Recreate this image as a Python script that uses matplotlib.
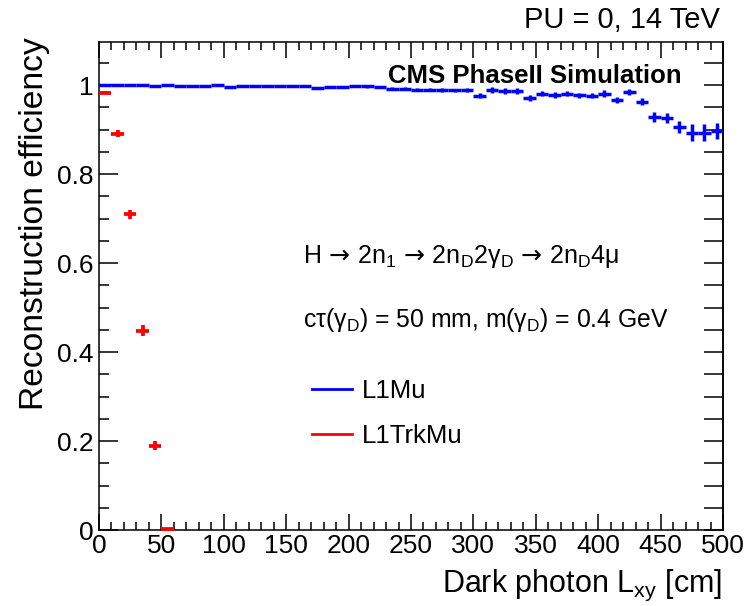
import numpy as np
import matplotlib
matplotlib.use("Agg")
import matplotlib.pyplot as plt
from matplotlib import font_manager
from matplotlib.lines import Line2D
from matplotlib.ticker import MultipleLocator, NullFormatter, FuncFormatter

# ---- data: dark photon transverse decay length bins (cm) ----
bin_width = 10.0
l1mu_x = np.arange(5, 500, 10)
l1mu_eff = [1.000, 1.000, 1.001, 1.000, 0.999, 1.000, 0.999, 0.999, 0.999, 1.000,
            0.996, 0.998, 0.999, 0.999, 0.998, 0.999, 0.999, 0.994, 0.995, 0.996,
            0.998, 0.997, 0.996, 0.992, 0.992, 0.990, 0.990, 0.989, 0.988, 0.989,
            0.976, 0.989, 0.987, 0.987, 0.971, 0.981, 0.978, 0.981, 0.977, 0.976,
            0.981, 0.966, 0.984, 0.963, 0.929, 0.926, 0.906, 0.893, 0.893, 0.897]
l1mu_err = [0.0012] * 10 + [0.002] * 10 + [0.003] * 5 + [0.004] * 5 + \
           [0.006] * 10 + \
           [0.007, 0.007, 0.007, 0.008, 0.011, 0.012, 0.014, 0.019, 0.019, 0.019]

l1trkmu_x = [5, 15, 25, 35, 45, 55]
l1trkmu_eff = [0.983, 0.891, 0.710, 0.448, 0.189, 0.003]
l1trkmu_err = [0.003, 0.008, 0.010, 0.012, 0.010, 0.002]

x_range = (0, 500)
y_range = (0, 1.097)

# ---- fonts ----
installed = {f.name for f in font_manager.fontManager.ttflist}
sans = "Liberation Sans"
narrow = "Liberation Sans Narrow" if "Liberation Sans Narrow" in installed else sans
plt.rcParams["font.family"] = [sans, "DejaVu Sans"]
plt.rcParams["mathtext.fontset"] = "custom"
plt.rcParams["mathtext.rm"] = sans
plt.rcParams["mathtext.it"] = sans + ":italic"
plt.rcParams["mathtext.bf"] = sans + ":bold"
plt.rcParams["mathtext.sf"] = "DejaVu Sans"   # long arrows

W, H = 751, 606
fig = plt.figure(figsize=(W / 100, H / 100), dpi=100)
ax = fig.add_axes([99 / W, 1 - 530 / H, (723 - 99) / W, (530 - 42) / H])

blue = (0, 0, 1)
red = (1, 0, 0)

ax.errorbar(l1mu_x, l1mu_eff, xerr=bin_width / 2, yerr=l1mu_err, fmt="none",
            ecolor=blue, elinewidth=2.5, capsize=0, zorder=3)
ax.errorbar(l1trkmu_x, l1trkmu_eff, xerr=bin_width / 2, yerr=l1trkmu_err, fmt="none",
            ecolor=red, elinewidth=2.7, capsize=0, zorder=3, clip_on=False)

ax.set_xlim(*x_range)
ax.set_ylim(*y_range)

for s in ax.spines.values():
    s.set_linewidth(1.1)

ax.xaxis.set_major_locator(MultipleLocator(50))
ax.xaxis.set_minor_locator(MultipleLocator(10))
ax.yaxis.set_major_locator(MultipleLocator(0.2))
ax.yaxis.set_minor_locator(MultipleLocator(0.05))
ax.yaxis.set_major_formatter(FuncFormatter(
    lambda v, p: "0" if abs(v) < 1e-9 else ("1" if abs(v - 1) < 1e-9 else f"{v:.1f}")))

ax.tick_params(axis="x", which="major", direction="in", length=11.5, width=1.1,
               top=True, bottom=True, labelsize=19, pad=3)
ax.tick_params(axis="x", which="minor", direction="in", length=6, width=1.1,
               top=True, bottom=True)
ax.tick_params(axis="y", which="major", direction="in", length=13.5, width=1.1,
               left=True, right=False, labelsize=19, pad=4)
ax.tick_params(axis="y", which="minor", direction="in", length=7, width=1.1,
               left=True, right=False)
for lab in ax.get_xticklabels():
    lab.set_fontfamily(narrow)

# right-hand axis: every tick drawn at full length
sec = ax.secondary_yaxis("right")
sec.yaxis.set_major_locator(MultipleLocator(0.2))
sec.yaxis.set_minor_locator(MultipleLocator(0.05))
sec.yaxis.set_major_formatter(NullFormatter())
sec.tick_params(which="both", direction="in", length=13.5, width=1.1)
sec.spines["right"].set_linewidth(1.1)

# labels
fig.text(35 / W, 1 - 37 / H, "Reconstruction efficiency", rotation=90,
         ha="center", va="top", fontsize=24.2)
fig.text(722 / W, 1 - 592 / H, r"Dark photon L$_{\mathrm{xy}}$ [cm]",
         ha="right", va="baseline", fontsize=22)
fig.text(720 / W, 1 - 28 / H, "PU = 0, 14 TeV", ha="right", va="baseline",
         fontsize=21, family=narrow)

ax.text(0.934, 0.916, "CMS PhaseII Simulation", transform=ax.transAxes,
        ha="right", va="baseline", fontsize=18.5, fontweight="bold")
arrow = r"$\,\mathsf{\rightarrow}\,$"
ax.text(0.327, 0.547,
        "H" + arrow + "2n$_{1}$" + arrow + r"2n$_{\mathrm{D}}$2γ$_{\mathrm{D}}$"
        + arrow + r"2n$_{\mathrm{D}}$4μ",
        transform=ax.transAxes, ha="left", va="baseline", fontsize=18)
ax.text(0.327, 0.416,
        r"cτ(γ$_{\mathrm{D}}$) = 50 mm, m(γ$_{\mathrm{D}}$) = 0.4 GeV",
        transform=ax.transAxes, ha="left", va="baseline", fontsize=17.8)

handles = [Line2D([], [], color=blue, lw=2.0), Line2D([], [], color=red, lw=2.0)]
ax.legend(handles, ["L1Mu", "L1TrkMu"], loc="center left",
          bbox_to_anchor=((312 - 99) / 624, (530 - 413.5) / 488),
          frameon=False, fontsize=18.5, handlelength=1.56, handletextpad=0.4,
          labelspacing=0.8, borderpad=0, borderaxespad=0)

fig.savefig("out.png", dpi=100)
